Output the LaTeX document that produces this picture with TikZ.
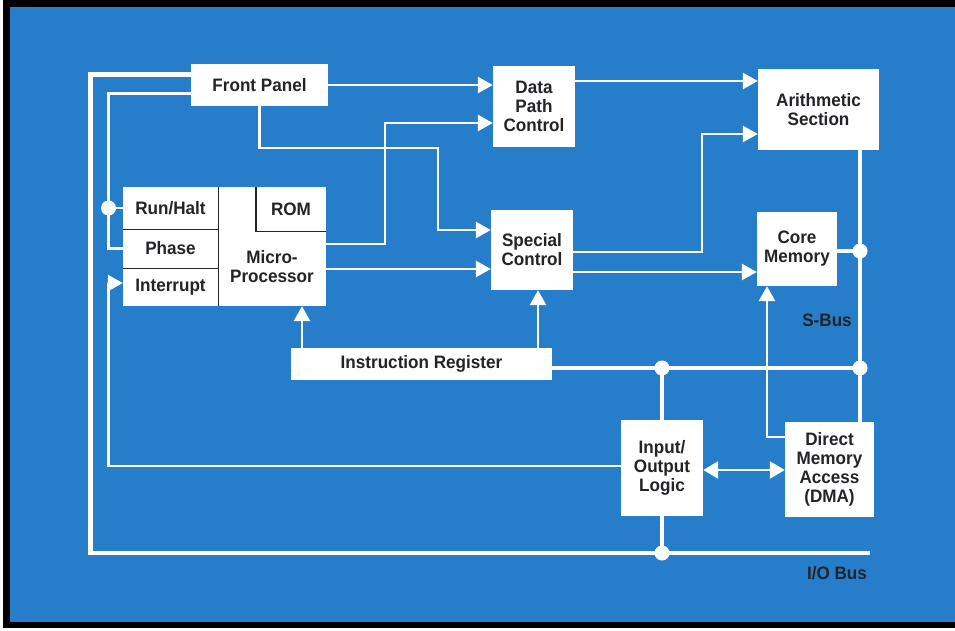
\documentclass[tikz,border=0pt]{standalone}
\usepackage{fontspec}
\setmainfont{Liberation Sans}[FakeStretch=0.95]
\usetikzlibrary{arrows.meta,calc}
\definecolor{bgblue}{RGB}{38,126,202}
\definecolor{ink}{RGB}{35,35,40}
\begin{document}
\begin{tikzpicture}[x=1pt,y=-1pt,
  font=\bfseries\fontsize{18}{19}\selectfont,
  box/.style={fill=white, draw=none, inner sep=0pt, align=center, text=ink},
  cell/.style={draw=none, inner sep=0pt, align=center, text=ink},
  sig/.style={white, line width=2.8pt},
  bus/.style={white, line width=4.6pt},
  arr/.style={-{Triangle[length=15pt,width=16pt]}},
  dblarr/.style={{Triangle[length=15pt,width=17pt]}-{Triangle[length=15pt,width=17pt]}},
  dot/.style={circle, fill=white, draw=none, inner sep=0pt, minimum size=15pt},
  divider/.style={ink, line width=1.4pt},
  lbl/.style={text=ink, inner sep=0pt}]
\useasboundingbox (0,0) rectangle (955,630);
\fill[black] (3,0) rectangle (962,628);
\fill[bgblue] (10,7) rectangle (962,622);

% boxes
\node[box, minimum width=137pt, minimum height=42pt] (fp) at (259.5,85) {Front Panel};
\node[box, minimum width=82pt, minimum height=81pt] (dpc) at (534,106.5) {Data\\Path\\Control};
\node[box, minimum width=121pt, minimum height=81pt] (ars) at (818.5,109.5) {Arithmetic\\Section};
\node[box, minimum width=82pt, minimum height=80pt] (sc) at (532,250) {Special\\Control};
\node[box, minimum width=80pt, minimum height=74pt] (cm) at (797,249) {Core\\Memory};
\node[box, minimum width=203pt, minimum height=119pt] (mp) at (224.5,246.5) {};
\node[box, minimum width=261pt, minimum height=32pt] (ir) at (421.5,364) {Instruction Register};
\node[box, minimum width=82pt, minimum height=96pt] (io) at (662,468) {Input/\\Output\\Logic};
\node[box, minimum width=89pt, minimum height=95pt] (dma) at (829.5,469.5) {Direct\\Memory\\Access\\(DMA)};

% cells of the microprocessor block
\node[cell, minimum width=95pt, minimum height=42pt] (rh) at (170.5,208) {Run/Halt};
\node[cell, minimum width=95pt, minimum height=39pt] (ph) at (170.5,248.5) {Phase};
\node[cell, minimum width=95pt, minimum height=38pt] (intr) at (170.5,287) {Interrupt};
\node[cell, minimum width=70pt, minimum height=44pt] (rom) at (291,209) {ROM};
\node[cell] (mpt) at (272,267) {Micro-\\Processor};
\draw[divider] (rh.north east) -- (intr.south east);
\draw[divider] (rh.south west) -- (rh.south east);
\draw[divider] (ph.south west) -- (ph.south east);
\draw[divider] (rom.north west) -- (rom.south west) -- (rom.south east);

% helper coordinates
\coordinate (obL) at (90.5,553);
\coordinate (iobR) at (870,553);
\coordinate (il) at (108.5,248.5);
\coordinate (intc) at (108.5,466);
\coordinate (intt) at (108.5,283);
\coordinate (a1) at (385,244);
\coordinate (a2) at (385,123);
\coordinate (b1) at (438,148);
\coordinate (b2) at (438,230);
\coordinate (d1) at (702,252);
\coordinate (d2) at (702,134);
\coordinate (f1) at (767,437);
\coordinate (sbx) at (860,368);

% outer I/O bus loop
\draw[bus] ([yshift=10.5pt]fp.west) -| (obL) -- (iobR);
% inner loop to Run/Halt and Phase
\draw[sig] ([yshift=-8.5pt]fp.west) -| (il) -- (ph.west);
\draw[sig] (rh.west -| il) -- (rh.west);
% interrupt
\draw[sig,arr] (io.west |- intc) -- (intc) -- (intt) -- (intt -| intr.west);
% front panel -> data path control
\draw[sig,arr] (fp.east) -- (fp.east -| dpc.west);
% microprocessor -> data path control
\draw[sig,arr] (mp.east |- a1) -- (a1) -- (a2) -- (a2 -| dpc.west);
% front panel -> special control
\draw[sig,arr] (fp.south) |- (b1) -- (b2) -- (b2 -| sc.west);
% microprocessor -> special control
\draw[sig,arr] ([yshift=-22.5pt]mp.east) -- ([yshift=-22.5pt]mp.east -| sc.west);
% data path control -> arithmetic
\draw[sig,arr] ([yshift=25.5pt]dpc.east) -- ([yshift=25.5pt]dpc.east -| ars.west);
% special control -> arithmetic
\draw[sig,arr] (sc.east |- d1) -- (d1) -- (d2) -- (d2 -| ars.west);
% special control -> core memory
\draw[sig,arr] ([yshift=-22pt]sc.east) -- ([yshift=-22pt]sc.east -| cm.west);
% instruction register -> microprocessor / special control
\draw[sig,arr] ([xshift=-119.5pt]ir.north) -- ([xshift=-119.5pt]ir.north |- mp.south);
\draw[sig,arr] ([xshift=116.5pt]ir.north) -- ([xshift=116.5pt]ir.north |- sc.south);
% S-bus
\draw[bus] (ars.south -| sbx) -- (dma.north -| sbx);
\draw[sig, line width=3.6pt] ([yshift=-2pt]cm.east) -- ([yshift=-2pt]cm.east -| sbx);
\draw[bus] (ir.east |- sbx) -- (sbx);
\draw[sig, line width=3.6pt] (io.north) -- (io.north |- sbx);
\draw[sig, line width=3.6pt] (io.south) -- (io.south |- iobR);
% DMA -> core memory
\draw[sig,arr] (dma.west |- f1) -- (f1) -- (f1 |- cm.south);
% I/O <-> DMA
\draw[sig,dblarr,line width=2.6pt] ([yshift=-2pt]io.east) -- ([yshift=-2pt]io.east -| dma.west);

% junction dots
\node[dot] (j1) at (rh.west -| il) {};
\node[dot] (j2) at ([yshift=-2pt]cm.east -| sbx) {};
\node[dot] (j3) at (sbx) {};
\node[dot] (j4) at (io.north |- sbx) {};
\node[dot] (j5) at (io.south |- iobR) {};

% labels
\node[lbl] (sbl) at (827,320) {S-Bus};
\node[lbl] (iobl) at (837,573) {I/O Bus};
\end{tikzpicture}
\end{document}
